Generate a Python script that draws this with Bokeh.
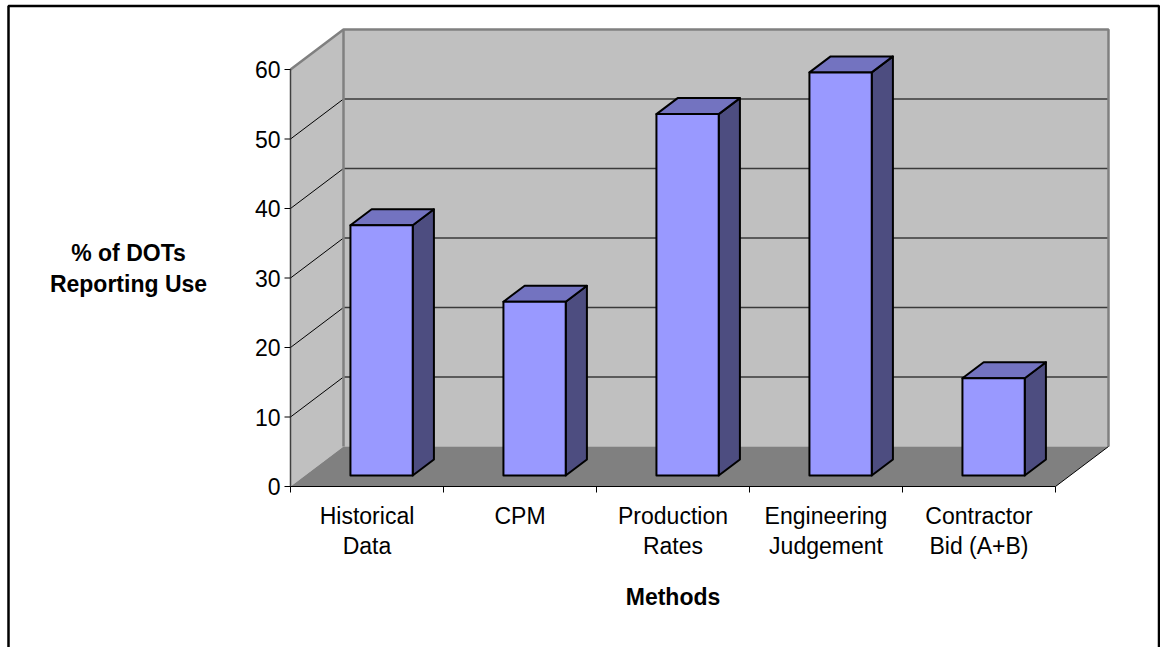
from bokeh.plotting import figure
from bokeh.models import Range1d
from bokeh.core.properties import value
from bokeh.embed import file_html
from bokeh.resources import INLINE

# ---- data -------------------------------------------------------------
methods = ["Historical\nData", "CPM", "Production\nRates",
           "Engineering\nJudgement", "Contractor\nBid (A+B)"]
pct_reporting = [36, 25, 52, 58, 14]
y_ticks = [0, 10, 20, 30, 40, 50, 60]
y_title = ["% of DOTs", "Reporting Use"]
x_title = "Methods"

# ---- layout constants (pixels) -----------------------------------------
W, H = 1160, 647
ORIGIN_X, ORIGIN_Y = 290, 486      # front-left-bottom corner of the box
CAT_PX = 153                       # one category along the front edge
UNIT_PX = 6.95                     # one percentage point
DEPTH_X = 53 / CAT_PX              # box depth, in category units
DEPTH_Y = 40 / UNIT_PX             # box depth, in value units
Y_MAX = 60
N = len(methods)

FONT = "Liberation Sans"
FS = "23px"


def X(px):
    return (px - ORIGIN_X) / CAT_PX


def Y(py):
    return (ORIGIN_Y - py) / UNIT_PX


p = figure(width=W, height=H, title=None,
           x_range=Range1d(X(0), X(W)), y_range=Range1d(Y(H), Y(0)),
           x_axis_type=None, y_axis_type=None,
           toolbar_location=None, output_backend="svg", min_border=0)
p.outline_line_color = None
p.background_fill_color = "white"
p.border_fill_color = "white"

WALL = "#C0C0C0"
FLOOR = "#808080"
EDGE = "#808080"

# ---- walls and floor ----------------------------------------------------
# left side wall
p.patch([0, DEPTH_X, DEPTH_X, 0], [0, DEPTH_Y, Y_MAX + DEPTH_Y, Y_MAX],
        fill_color=WALL, line_color=None)
# back wall
p.patch([DEPTH_X, N + DEPTH_X, N + DEPTH_X, DEPTH_X],
        [DEPTH_Y, DEPTH_Y, Y_MAX + DEPTH_Y, Y_MAX + DEPTH_Y],
        fill_color=WALL, line_color=None)
# floor
p.patch([0, N, N + DEPTH_X, DEPTH_X], [0, 0, DEPTH_Y, DEPTH_Y],
        fill_color=FLOOR, line_color=None)

# gridlines: back wall and left wall
grid_vals = [t for t in y_ticks if 0 < t < Y_MAX]
p.segment(x0=[DEPTH_X] * len(grid_vals), y0=[t + DEPTH_Y for t in grid_vals],
          x1=[N + DEPTH_X] * len(grid_vals), y1=[t + DEPTH_Y for t in grid_vals],
          line_color="#3a3a3a", line_width=1.5)
p.segment(x0=[0] * len(grid_vals), y0=grid_vals,
          x1=[DEPTH_X] * len(grid_vals), y1=[t + DEPTH_Y for t in grid_vals],
          line_color="black", line_width=1)

# wall edges
p.line([0, DEPTH_X, N + DEPTH_X, N + DEPTH_X],
       [Y_MAX, Y_MAX + DEPTH_Y, Y_MAX + DEPTH_Y, DEPTH_Y],
       line_color=EDGE, line_width=2.5)
p.line([DEPTH_X, DEPTH_X], [DEPTH_Y, Y_MAX + DEPTH_Y],
       line_color=EDGE, line_width=2.5)
# floor right edge
p.line([N, N + DEPTH_X], [0, DEPTH_Y], line_color="black", line_width=1)

# front value axis and category axis
p.line([0, 0], [0, Y_MAX], line_color="#404040", line_width=1.5)
p.line([0, N], [0, 0], line_color="black", line_width=1.2)
tick_len = 6
p.segment(x0=[X(ORIGIN_X - tick_len)] * len(y_ticks), y0=y_ticks,
          x1=[0] * len(y_ticks), y1=y_ticks, line_color="black", line_width=1)
bounds = list(range(N + 1))
p.segment(x0=bounds, y0=[0] * len(bounds), x1=bounds,
          y1=[Y(ORIGIN_Y + tick_len)] * len(bounds),
          line_color="black", line_width=1)

# ---- bars ---------------------------------------------------------------
BAR_W = 0.407
F0, F1 = 0.275, 0.675          # front and back of the bars, share of depth
ddx = (F1 - F0) * DEPTH_X
ddy = (F1 - F0) * DEPTH_Y
front_x, front_y, top_x, top_y, side_x, side_y = [], [], [], [], [], []
for i, v in enumerate(pct_reporting):
    cx = i + 0.5 + F0 * DEPTH_X
    xl, xr = cx - BAR_W / 2, cx + BAR_W / 2
    yb = F0 * DEPTH_Y
    yt = yb + v
    front_x.append([xl, xr, xr, xl])
    front_y.append([yb, yb, yt, yt])
    top_x.append([xl, xr, xr + ddx, xl + ddx])
    top_y.append([yt, yt, yt + ddy, yt + ddy])
    side_x.append([xr, xr + ddx, xr + ddx, xr])
    side_y.append([yb, yb + ddy, yt + ddy, yt])

p.patches(side_x, side_y, fill_color="#4D4D80", line_color="black",
          line_width=2, line_join="round")
p.patches(top_x, top_y, fill_color="#7373C0", line_color="black",
          line_width=2, line_join="round")
p.patches(front_x, front_y, fill_color="#9999FF", line_color="black",
          line_width=2, line_join="round")

# ---- texts --------------------------------------------------------------
p.text(x=[X(ORIGIN_X - 10)] * len(y_ticks), y=y_ticks,
       text=[str(t) for t in y_ticks], text_font=value(FONT),
       text_font_size=FS, text_align="right", text_baseline="middle",
       text_color="black")

lab_x, lab_y, lab_t = [], [], []
for i, m in enumerate(methods):
    for j, line in enumerate(m.split("\n")):
        lab_x.append(i + 0.5)
        lab_y.append(Y(515 + 30 * j))
        lab_t.append(line)
p.text(x=lab_x, y=lab_y, text=lab_t, text_font=value(FONT),
       text_font_size=FS, text_align="center", text_baseline="middle",
       text_color="black")

p.text(x=[N / 2], y=[Y(596)], text=[x_title], text_font=value(FONT),
       text_font_size=FS, text_font_style="bold", text_align="center",
       text_baseline="middle", text_color="black")

p.text(x=[X(128)] * len(y_title), y=[Y(252), Y(283)], text=y_title,
       text_font=value(FONT), text_font_size=FS, text_font_style="bold",
       text_align="center", text_baseline="middle", text_color="black")

# ---- chart border -------------------------------------------------------
p.line([X(8), X(8), X(1158.5), X(1158.5)], [Y(H + 10), Y(5.5), Y(5.5), Y(H + 10)],
       line_color="black", line_width=2.5)

open("out.html", "w").write(file_html(p, INLINE))
